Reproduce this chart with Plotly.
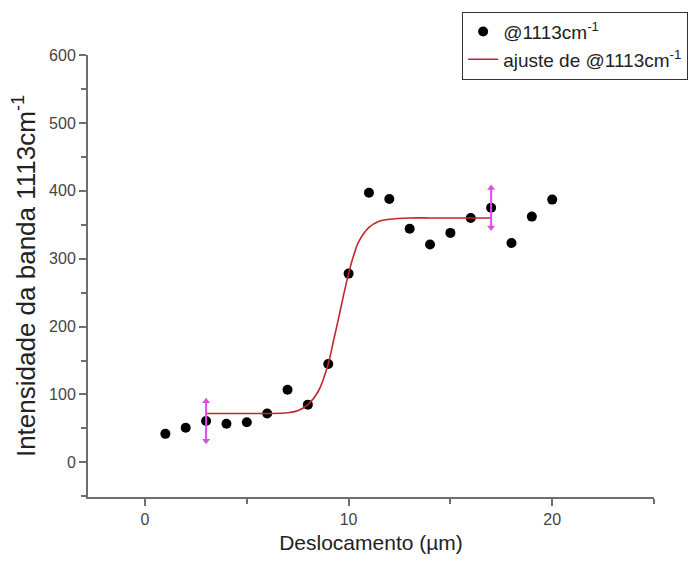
import plotly.graph_objects as go

# Data
x_pts = [1, 2, 3, 4, 5, 6, 7, 8, 9, 10, 11, 12, 13, 14, 15, 16, 17, 18, 19, 20]
y_pts = [42, 51, 61, 57, 59, 72, 107, 85, 145, 278, 397, 388, 344, 321, 338, 360, 375, 323, 362, 387]

# Fitted (Boltzmann-like) curve
x_fit = [3, 4, 5, 6, 7, 7.5, 8, 8.5, 9, 9.25, 9.5, 9.75, 10, 10.25, 10.5, 11, 11.5, 12, 13, 14, 15, 16, 17]
y_fit = [72, 72, 72, 72, 73, 76, 85, 104, 145, 178, 211, 246, 278, 305, 325, 346, 355, 358, 360, 360, 360, 360, 360]

# Data-reader markers (magenta double arrows)
arrow_x = [3, 17]
arrow_y = [61, 375]
arrow_half = 29

x_ticks = [0, 10, 20]
y_ticks = [0, 100, 200, 300, 400, 500, 600]

FONT = "Liberation Sans, Arial, sans-serif"
AXIS_COLOR = "#6e6e6e"
MAGENTA = "#e04de0"

fig = go.Figure()

fig.add_trace(go.Scatter(
    x=x_pts, y=y_pts, mode="markers", name="@1113cm<sup>-1</sup>",
    marker=dict(color="black", size=10),
))
fig.add_trace(go.Scatter(
    x=x_fit, y=y_fit, mode="lines", name="ajuste de @1113cm<sup>-1</sup>",
    line=dict(color="#c0282d", width=1.6, shape="spline"),
))

for ax, ay in zip(arrow_x, arrow_y):
    fig.add_trace(go.Scatter(
        x=[ax, ax], y=[ay - arrow_half, ay + arrow_half], mode="lines",
        line=dict(color=MAGENTA, width=2), showlegend=False, hoverinfo="skip",
    ))
    fig.add_trace(go.Scatter(
        x=[ax, ax], y=[ay + arrow_half, ay - arrow_half], mode="markers",
        marker=dict(color=MAGENTA, size=7, symbol=["triangle-up", "triangle-down"]),
        showlegend=False, hoverinfo="skip",
    ))

fig.update_layout(
    width=700, height=569,
    margin=dict(l=88, r=46, t=53, b=72),
    paper_bgcolor="white", plot_bgcolor="white",
    font=dict(family=FONT, color="#333333"),
    showlegend=True,
    legend=dict(
        x=0.661, y=1.098, xanchor="left", yanchor="top",
        bgcolor="white", bordercolor="#333333", borderwidth=1,
        font=dict(family=FONT, size=19, color="#222222"),
        itemwidth=30, tracegroupgap=0,
    ),
    xaxis=dict(
        range=[-2.8, 25], tickvals=x_ticks, showgrid=False, zeroline=False,
        showline=True, linecolor=AXIS_COLOR, linewidth=2,
        ticks="outside", ticklen=7, tickwidth=2, tickcolor=AXIS_COLOR,
        minor=dict(dtick=5, tick0=0, ticks="outside", ticklen=5, tickwidth=2, tickcolor=AXIS_COLOR),
        tickfont=dict(size=16, color="#444444"),
        title=dict(text="Deslocamento (µm)", font=dict(size=21, color="#222222"), standoff=8),
    ),
    yaxis=dict(
        range=[-51, 600], tickvals=y_ticks, showgrid=False, zeroline=False,
        showline=True, linecolor=AXIS_COLOR, linewidth=2,
        ticks="outside", ticklen=7, tickwidth=2, tickcolor=AXIS_COLOR,
        minor=dict(dtick=50, tick0=0, ticks="outside", ticklen=5, tickwidth=2, tickcolor=AXIS_COLOR),
        tickfont=dict(size=16, color="#444444"),
        title=dict(text="Intensidade da banda 1113cm<sup>-1</sup>", font=dict(size=26, color="#222222"), standoff=6),
    ),
)

fig.write_html("out.html")
